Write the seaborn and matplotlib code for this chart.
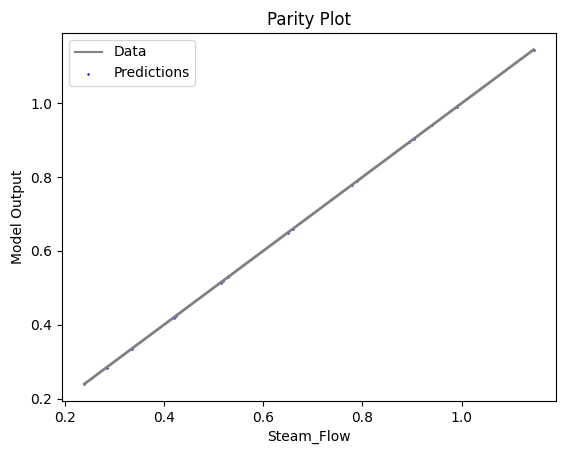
import matplotlib
matplotlib.use("Agg")
import matplotlib.pyplot as plt
import seaborn as sns

# measured values (Steam_Flow) and model predictions
steam_flow = [0.240, 0.285, 0.335, 0.420, 0.425, 0.515, 0.520, 0.530,
              0.650, 0.660, 0.780, 0.790, 0.895, 0.905, 0.940, 0.990, 1.145]
model_output = [0.239, 0.284, 0.334, 0.419, 0.424, 0.514, 0.518, 0.529,
                0.649, 0.660, 0.779, 0.789, 0.894, 0.904, 0.940, 0.989, 1.144]

fig = plt.figure(figsize=(5.67, 4.55), dpi=100)
ax = fig.add_axes([62 / 567, 54 / 455, 494 / 567, 368 / 455])

sns.lineplot(x=steam_flow, y=steam_flow, color='gray', linewidth=2,
             label='Data', ax=ax)
sns.scatterplot(x=steam_flow, y=model_output, color='blue', s=3, linewidth=0,
                label='Predictions', ax=ax)

ax.set_title("Parity Plot")
ax.set_xlabel("Steam_Flow")
ax.set_ylabel("Model Output")
leg = ax.legend(loc='upper left')
leg.get_lines()[0].set_linewidth(1.5)

fig.savefig("out.png", dpi=100)
